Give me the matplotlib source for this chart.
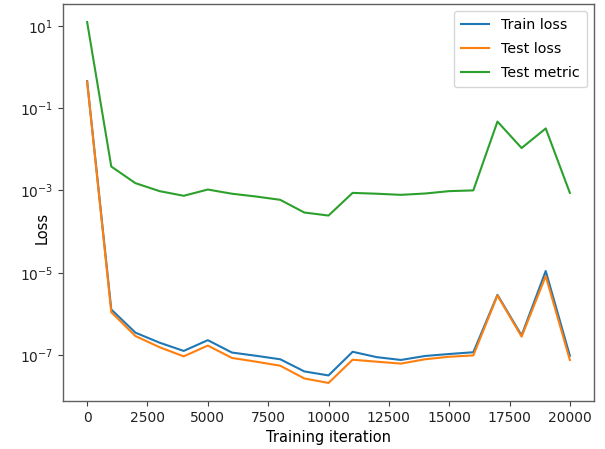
import matplotlib
matplotlib.use("Agg")
import matplotlib.pyplot as plt
import matplotlib.ticker as mticker

iterations = list(range(0, 20001, 1000))
train_loss = [0.45, 1.28e-6, 3.5e-7, 2.0e-7, 1.26e-7, 2.3e-7, 1.15e-7, 9.6e-8, 7.9e-8, 4.0e-8, 3.2e-8,
              1.2e-7, 8.9e-8, 7.6e-8, 9.5e-8, 1.06e-7, 1.17e-7, 2.9e-6, 3.0e-7, 1.1e-5, 9.6e-8]
test_loss = [0.44, 1.1e-6, 2.9e-7, 1.55e-7, 9.3e-8, 1.7e-7, 8.5e-8, 6.9e-8, 5.5e-8, 2.7e-8, 2.1e-8,
             7.7e-8, 6.9e-8, 6.2e-8, 7.9e-8, 9.1e-8, 9.8e-8, 2.8e-6, 2.8e-7, 8.3e-6, 7.6e-8]
test_metric = [12.3, 3.8e-3, 1.5e-3, 9.6e-4, 7.4e-4, 1.05e-3, 8.3e-4, 7.1e-4, 5.9e-4, 2.9e-4, 2.45e-4,
               8.7e-4, 8.3e-4, 7.8e-4, 8.4e-4, 9.6e-4, 1.0e-3, 4.7e-2, 1.07e-2, 3.2e-2, 8.7e-4]
y_ticks = [1e1, 1e-1, 1e-3, 1e-5, 1e-7]

plt.rcParams["font.size"] = 10

fig = plt.figure(figsize=(6.05, 4.49), dpi=100)
ax = fig.add_axes([63/605, 1-401/449, (594-63)/605, (401-4)/449])
ax.plot(iterations, train_loss, label="Train loss")
ax.plot(iterations, test_loss, label="Test loss")
ax.plot(iterations, test_metric, label="Test metric")
ax.set_yscale("log")
ax.set_yticks(y_ticks)
ax.yaxis.set_minor_locator(mticker.NullLocator())
for sp in ax.spines.values():
    sp.set_color("#606060")
    sp.set_linewidth(1.0)
ax.tick_params(colors="#404040", labelcolor="#222222")
ax.set_xlabel("Training iteration", fontsize=10.5, labelpad=4)
ax.set_ylabel("Loss", fontsize=10.5)
ax.yaxis.set_label_coords((50-63)/531, (401-228)/397)
ax.legend(loc="upper right", labelspacing=0.7, borderpad=0.5, fontsize=10.3)
fig.savefig("out.png", dpi=100)
